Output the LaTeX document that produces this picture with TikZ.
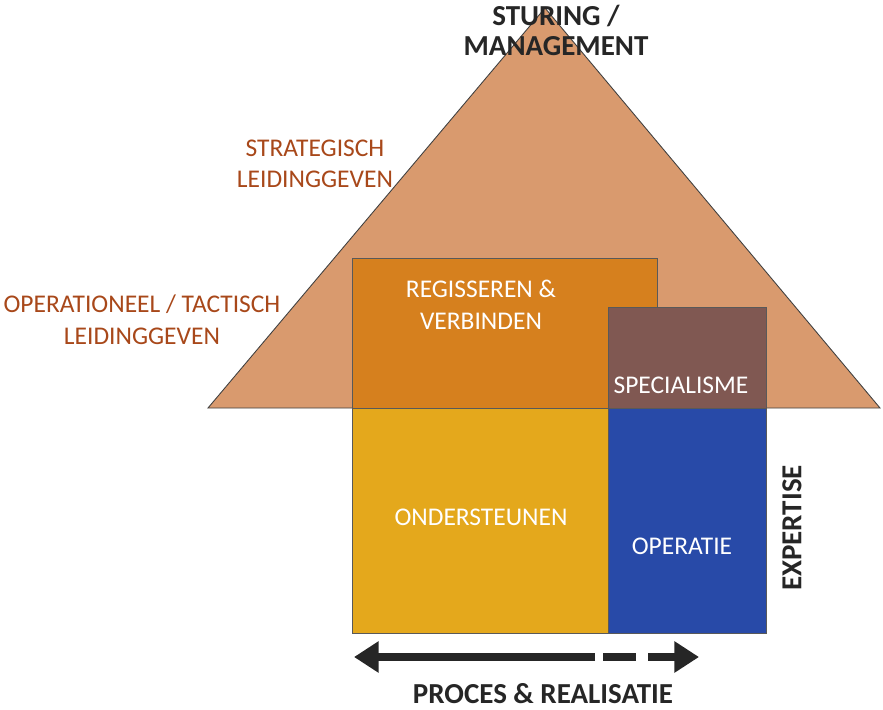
\documentclass[tikz,border=0pt]{standalone}
\usepackage{fontspec}
\setmainfont{Carlito}
\usetikzlibrary{arrows.meta}

\definecolor{roofcol}{RGB}{217,154,110}
\definecolor{regiecol}{RGB}{214,128,30}
\definecolor{speccol}{RGB}{128,88,82}
\definecolor{steuncol}{RGB}{228,168,28}
\definecolor{operacol}{RGB}{40,74,168}
\definecolor{labelcol}{RGB}{168,72,26}

\tikzset{
	block/.style={draw=black!65,line width=0.4pt},
	whitetxt/.style={text=white,font=\fontsize{14.5}{18}\selectfont,align=center},
	sidetxt/.style={text=labelcol,font=\fontsize{14.5}{18}\selectfont,align=center},
	boldtxt/.style={font=\fontsize{16.5}{17}\selectfont\bfseries,align=center,text=black!85},
	bigarrow/.style={line width=4.5pt,black!85,-{Triangle[length=14pt,width=17pt]}}
}

\begin{document}
\begin{tikzpicture}[x=0.02cm,y=-0.02cm]
	
	\useasboundingbox (0,0) rectangle (883,710);
	
	%roof
	\coordinate (top) at (545,8);
	\coordinate (bl) at (208,408);
	\coordinate (br) at (880,408);
	\filldraw[fill=roofcol,draw=black!75,line width=0.5pt] (top)--(bl)--(br)--cycle;
	
	%blocks
	\filldraw[block,fill=regiecol] (352,258) rectangle (657,408);
	\filldraw[block,fill=speccol] (608,307) rectangle (766,408);
	\filldraw[block,fill=steuncol] (352,408) rectangle (608,633);
	\filldraw[block,fill=operacol] (608,408) rectangle (766,633);
	
	%block captions
	\node[whitetxt] (regie) at (481,305) {REGISSEREN \&\\VERBINDEN};
	\node[whitetxt] (spec) at (681,385) {SPECIALISME};
	\node[whitetxt] (steun) at (481,517) {ONDERSTEUNEN};
	\node[whitetxt] (opera) at (682,546) {OPERATIE};
	
	%side captions
	\node[sidetxt] (strat) at (315,164) {STRATEGISCH\\LEIDINGGEVEN};
	\node[sidetxt] (oper) at (142,320) {OPERATIONEEL / TACTISCH\\LEIDINGGEVEN};
	\node[boldtxt] (sturing) at (556,30) {STURING /\\MANAGEMENT};
	\node[boldtxt,rotate=90] (expert) at (792,528) {EXPERTISE};
	\node[boldtxt,inner sep=1pt] (proces) at (543,694) {PROCES \& REALISATIE};
	
	%arrow
	\coordinate (a1) at (595,657);	\coordinate (a2) at (354,657);
	\coordinate (d1) at (603,657);	\coordinate (d2) at (636,657);
	\coordinate (b1) at (648,657);	\coordinate (b2) at (699,657);
	\draw[bigarrow] (a1)--(a2);
	\draw[line width=4.5pt,black!85] (d1)--(d2);
	\draw[bigarrow] (b1)--(b2);
	
\end{tikzpicture}
\end{document}
